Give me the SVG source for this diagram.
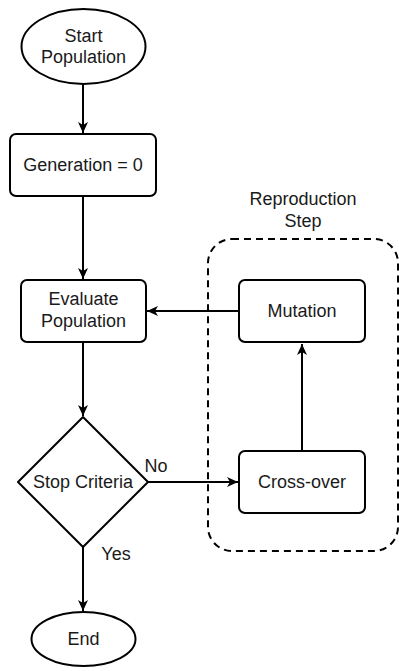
<svg xmlns="http://www.w3.org/2000/svg" width="399" height="671" viewBox="0 0 399 671">
<style>
.n{fill:#fff;stroke:#000;stroke-width:2}
.t{font-family:"Liberation Sans",Arial,sans-serif;font-size:18px;fill:#1a1a1a;text-anchor:middle}
.e{fill:none;stroke:#000;stroke-width:2}
.d{fill:none;stroke:#000;stroke-width:2;stroke-dasharray:7 5}
</style>
<defs>
<marker id="a" viewBox="0 0 12 12" refX="11" refY="6" markerWidth="12" markerHeight="12" markerUnits="userSpaceOnUse" orient="auto">
<path d="M0,1 L11,6 L0,11 L3,6 Z" fill="#000"/>
</marker>
</defs>
<g id="group">
<rect class="d" x="208" y="239" width="190" height="312" rx="24"/>
<text class="t" x="303" y="205">Reproduction</text>
<text class="t" x="303" y="227">Step</text>
</g>
<g id="connectors">
<path class="e" d="M83,84 V133" marker-end="url(#a)"/>
<path class="e" d="M83,196 V279" marker-end="url(#a)"/>
<path class="e" d="M83,342 V416" marker-end="url(#a)"/>
<path class="e" d="M83,547 V611" marker-end="url(#a)"/>
<path class="e" d="M148,482 H238" marker-end="url(#a)"/>
<path class="e" d="M302,451 V344" marker-end="url(#a)"/>
<path class="e" d="M239,311 H147" marker-end="url(#a)"/>
<text class="t" x="156" y="472">No</text>
<text class="t" x="116" y="560">Yes</text>
</g>
<g id="start">
<ellipse class="n" cx="83.5" cy="46.5" rx="62" ry="37.5"/>
<text class="t" x="83.5" y="42">Start</text>
<text class="t" x="83.5" y="63">Population</text>
</g>
<g id="generation">
<rect class="n" x="10" y="134" width="146" height="62" rx="6"/>
<text class="t" x="83" y="171">Generation = 0</text>
</g>
<g id="evaluate">
<rect class="n" x="21" y="280" width="125" height="62" rx="6"/>
<text class="t" x="83.5" y="305">Evaluate</text>
<text class="t" x="83.5" y="327">Population</text>
</g>
<g id="stop">
<path class="n" d="M83,417 L148,482 L83,547 L18,482 Z" stroke-linejoin="round"/>
<text class="t" x="83" y="488">Stop Criteria</text>
</g>
<g id="end">
<ellipse class="n" cx="83.5" cy="639" rx="52" ry="27"/>
<text class="t" x="83.5" y="645">End</text>
</g>
<g id="mutation">
<rect class="n" x="239" y="280" width="126" height="62" rx="6"/>
<text class="t" x="302" y="317">Mutation</text>
</g>
<g id="crossover">
<rect class="n" x="239" y="451" width="126" height="62" rx="6"/>
<text class="t" x="302" y="488">Cross-over</text>
</g>
</svg>
